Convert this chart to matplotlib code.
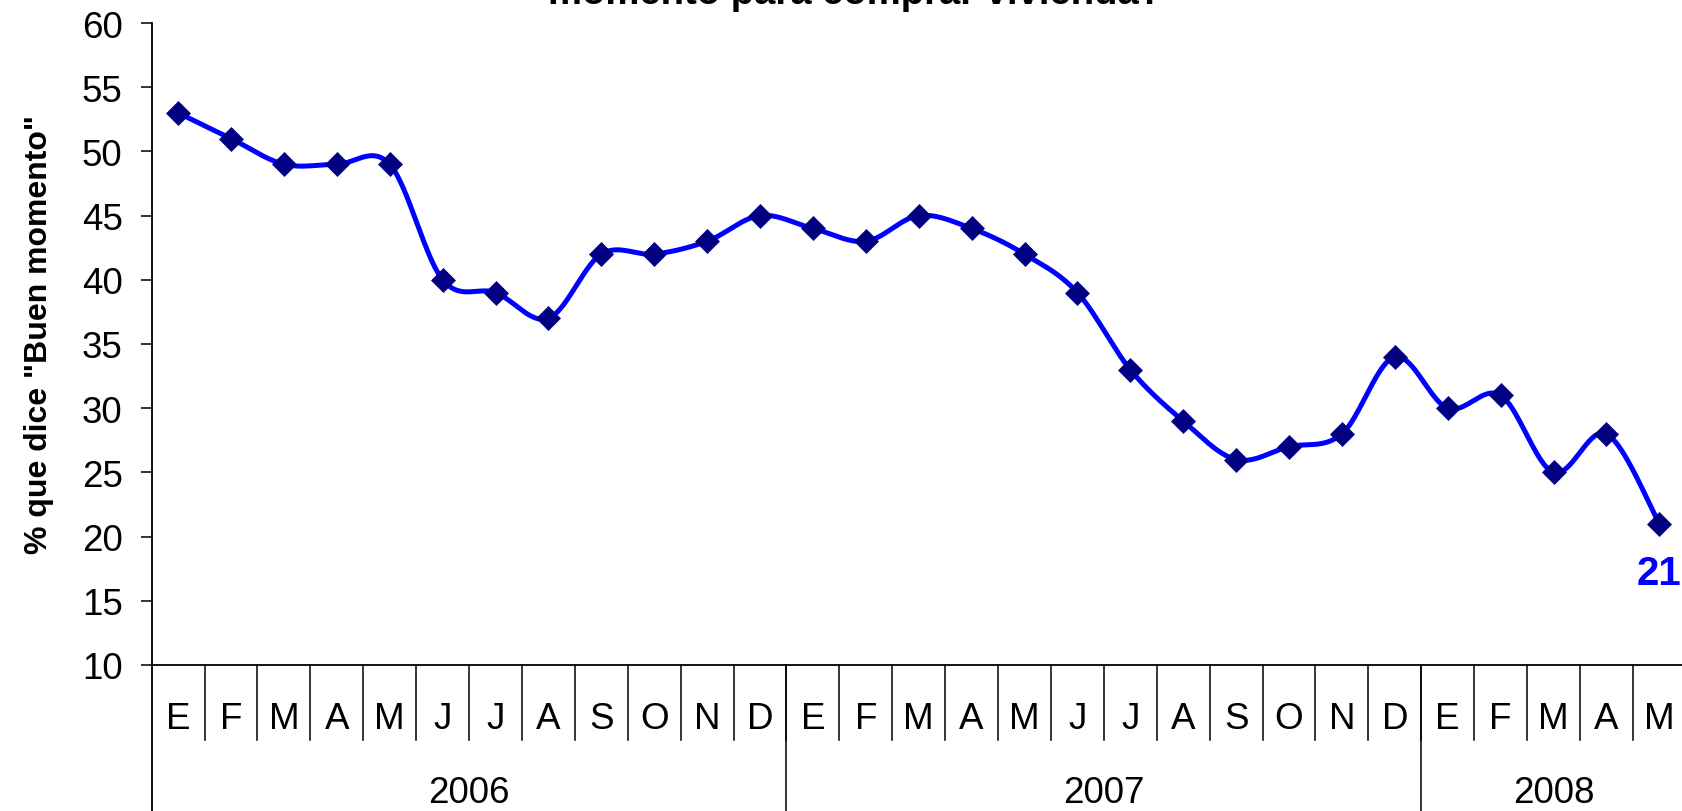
import numpy as np
import matplotlib
matplotlib.use('Agg')
import matplotlib.pyplot as plt

# ---- data ----
months = ['E', 'F', 'M', 'A', 'M', 'J', 'J', 'A', 'S', 'O', 'N', 'D',
          'E', 'F', 'M', 'A', 'M', 'J', 'J', 'A', 'S', 'O', 'N', 'D',
          'E', 'F', 'M', 'A', 'M']
years = ['2006', '2007', '2008']
year_counts = [12, 12, 5]
values = [53, 51, 49, 49, 49, 40, 39, 37, 42, 42, 43, 45,
          44, 43, 45, 44, 42, 39, 33, 29, 26, 27, 28, 34,
          30, 31, 25, 28, 21]
title = 'momento para comprar vivienda?'
ylabel = '% que dice "Buen momento"'

plt.rcParams['font.family'] = ['Liberation Sans', 'DejaVu Sans']

W, H = 1683, 812
fig = plt.figure(figsize=(W / 100, H / 100), dpi=100)
left_px, top_px, bottom_px = 151.7, 24.0, 666.0
cat_w = 52.9
n = len(values)
ax = fig.add_axes([left_px / W, 1 - bottom_px / H, n * cat_w / W, (bottom_px - top_px) / H])

x = np.arange(n) + 0.5
y = np.array(values, dtype=float)

# Excel-like smoothed line (Catmull-Rom Bezier)
P = np.column_stack([x, y])
curve = []
for i in range(n - 1):
    p0 = P[i - 1] if i > 0 else P[i]
    p1 = P[i]
    p2 = P[i + 1]
    p3 = P[i + 2] if i + 2 < n else P[i + 1]
    c1 = p1 + (p2 - p0) / 6.0
    c2 = p2 - (p3 - p1) / 6.0
    t = np.linspace(0, 1, 40)[:, None]
    seg = ((1 - t) ** 3) * p1 + 3 * ((1 - t) ** 2) * t * c1 + 3 * (1 - t) * t ** 2 * c2 + t ** 3 * p2
    curve.append(seg if i == 0 else seg[1:])
curve = np.vstack(curve)

ax.plot(curve[:, 0], curve[:, 1], color='#0000FF', lw=3.6, solid_capstyle='round', zorder=3)
ax.plot(x, y, linestyle='none', marker='D', ms=12, color='#000080',
        markeredgecolor='#000080', markeredgewidth=0.5, zorder=4)

ax.set_xlim(0, n)
ax.set_ylim(10, 60)
ax.set_yticks(np.arange(10, 61, 5))
ax.set_xticks([])
ax.tick_params(axis='y', direction='out', length=8, width=1.1, pad=13, labelsize=26.5)
for s in ['top', 'right']:
    ax.spines[s].set_visible(False)
for s in ['left', 'bottom']:
    ax.spines[s].set_linewidth(1.3)
    ax.spines[s].set_color('black')

ax_h = bottom_px - top_px
def yfrac(py):
    return (bottom_px - py) / ax_h

trans = ax.get_xaxis_transform()
# month separators
for k in range(1, n + 1):
    ax.plot([k, k], [0, yfrac(740.7)], transform=trans, color='black', lw=1.1, clip_on=False)
# year separators
pos = 0
ax.plot([0, 0], [0, yfrac(830)], transform=trans, color='black', lw=1.3, clip_on=False)
for yr, cnt in zip(years, year_counts):
    ax.text(pos + cnt / 2, yfrac(794), yr, transform=trans, ha='center', va='center', fontsize=26.5)
    pos += cnt
    ax.plot([pos, pos], [0, yfrac(830)], transform=trans, color='black', lw=1.1, clip_on=False)
for i, m in enumerate(months):
    ax.text(i + 0.5, yfrac(719.5), m, transform=trans, ha='center', va='center', fontsize=26.5)

# last value label
ax.text(x[-1], values[-1] - 3.8, str(values[-1]), ha='center', va='center',
        fontsize=29, fontweight='bold', color='#0000FF')

fig.text(39 / W, 1 - 334 / H, ylabel, rotation=90, ha='center', va='center',
         fontsize=23, fontweight='bold')
fig.text(855 / W, 1 - 4.5 / H, title, ha='center', va='baseline', fontsize=27.5, fontweight='bold')

fig.savefig('out.png', dpi=100)
